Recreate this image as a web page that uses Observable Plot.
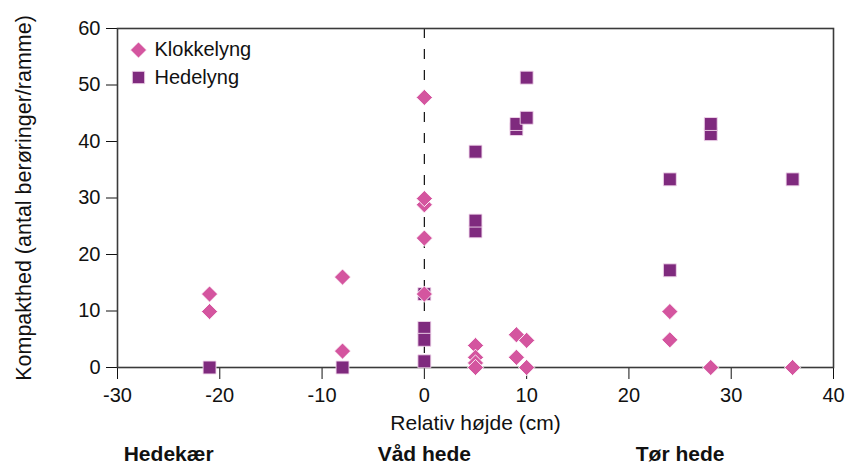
<!DOCTYPE html>
<html>
<head>
<meta charset="utf-8">
<script src="https://cdn.jsdelivr.net/npm/d3@7"></script>
<script src="https://cdn.jsdelivr.net/npm/@observablehq/plot@0.6"></script>
<style>
  html, body { margin: 0; padding: 0; background: #fff; }
  #chart { width: 848px; height: 466px; }
</style>
</head>
<body>
<div id="chart"></div>
<script>
// Klokkelyng (diamonds)
const klokX = [-21, -21, -8, -8, 0, 0, 0, 0, 0, 5, 5, 5, 5, 9, 9, 10, 10, 24, 24, 28, 36];
const klokY = [13, 9.9, 16, 2.9, 47.8, 28.8, 29.9, 22.9, 13, 3.9, 1.8, 0.8, 0, 5.8, 1.8, 4.8, 0, 9.9, 4.9, 0, 0];
// Hedelyng (squares)
const hedeX = [-21, -8, 0, 0, 0, 0, 5, 5, 5, 9, 9, 10, 10, 24, 24, 28, 28, 36];
const hedeY = [0, 0, 13, 7, 4.9, 1.1, 38.2, 24.1, 26, 42.2, 43.1, 51.3, 44.2, 33.3, 17.2, 41.3, 43.1, 33.3];

const xTicks = [-30, -20, -10, 0, 10, 20, 30, 40];
const yTicks = [0, 10, 20, 30, 40, 50, 60];
const seriesNames = ["Klokkelyng", "Hedelyng"];
const zoneNames = ["Hedekær", "Våd hede", "Tør hede"];
const zoneX = [-25, 0, 25];
const xTitle = "Relativ højde (cm)";
const yTitle = "Kompakthed (antal berøringer/ramme)";

const pink = "#d4559f";
const purple = "#7f2a7e";

const klok = klokX.map((x, i) => ({x, y: klokY[i]}));
const hede = hedeX.map((x, i) => ({x, y: hedeY[i]}));

const chart = Plot.plot({
  width: 848,
  height: 466,
  marginLeft: 117,
  marginRight: 15,
  marginTop: 28,
  marginBottom: 99,
  style: {fontFamily: "'Liberation Sans', Arial, Helvetica, sans-serif", fontSize: "20px", color: "#111", background: "#fff"},
  x: {domain: [-30, 40], ticks: xTicks, tickSize: 12, tickPadding: 8, tickFormat: d => String(d), label: null},
  y: {domain: [0, 60], ticks: yTicks, tickSize: 11, tickPadding: 6, tickFormat: d => String(d), label: null},
  marks: [
    Plot.ruleX([0], {stroke: "#111", strokeWidth: 1.2, strokeDasharray: "10,11"}),
    Plot.frame({stroke: "#3a3a3a", strokeWidth: 1.6}),
    Plot.dot(hede, {x: "x", y: "y", symbol: "square", r: 7.3, fill: purple, stroke: "#f2d8ec", strokeWidth: 0.9}),
    Plot.dot(klok, {x: "x", y: "y", symbol: "diamond2", r: 7.3, fill: pink, stroke: "#ffffff", strokeWidth: 0.9}),
    // legend
    Plot.dot([seriesNames[0]], {frameAnchor: "top-left", dx: 21, dy: 21.5, symbol: "diamond2", r: 7.3, fill: pink, stroke: "#fff", strokeWidth: 0.9}),
    Plot.dot([seriesNames[1]], {frameAnchor: "top-left", dx: 21, dy: 49, symbol: "square", r: 7.0, fill: purple, stroke: "#f2d8ec", strokeWidth: 0.9}),
    Plot.text([seriesNames[0]], {frameAnchor: "top-left", dx: 37, dy: 21.5, text: d => d, textAnchor: "start", lineAnchor: "middle", fontSize: 20, fill: "#111"}),
    Plot.text([seriesNames[1]], {frameAnchor: "top-left", dx: 37, dy: 49, text: d => d, textAnchor: "start", lineAnchor: "middle", fontSize: 20, fill: "#111"}),
    // axis titles
    Plot.text([xTitle], {frameAnchor: "bottom", dy: 56, text: d => d, lineAnchor: "middle", textAnchor: "middle", fontSize: 21, fill: "#111"}),
    Plot.text([yTitle], {frameAnchor: "left", dx: -93, rotate: -90, text: d => d, textAnchor: "middle", lineAnchor: "middle", fontSize: 21.5, fill: "#111"}),
    // zone labels
    Plot.text(zoneNames, {x: zoneX, frameAnchor: "bottom", dy: 87, text: d => d, lineAnchor: "middle", textAnchor: "middle", fontSize: 21, fontWeight: "bold", fill: "#111"})
  ]
});
document.getElementById("chart").appendChild(chart);
</script>
</body>
</html>
